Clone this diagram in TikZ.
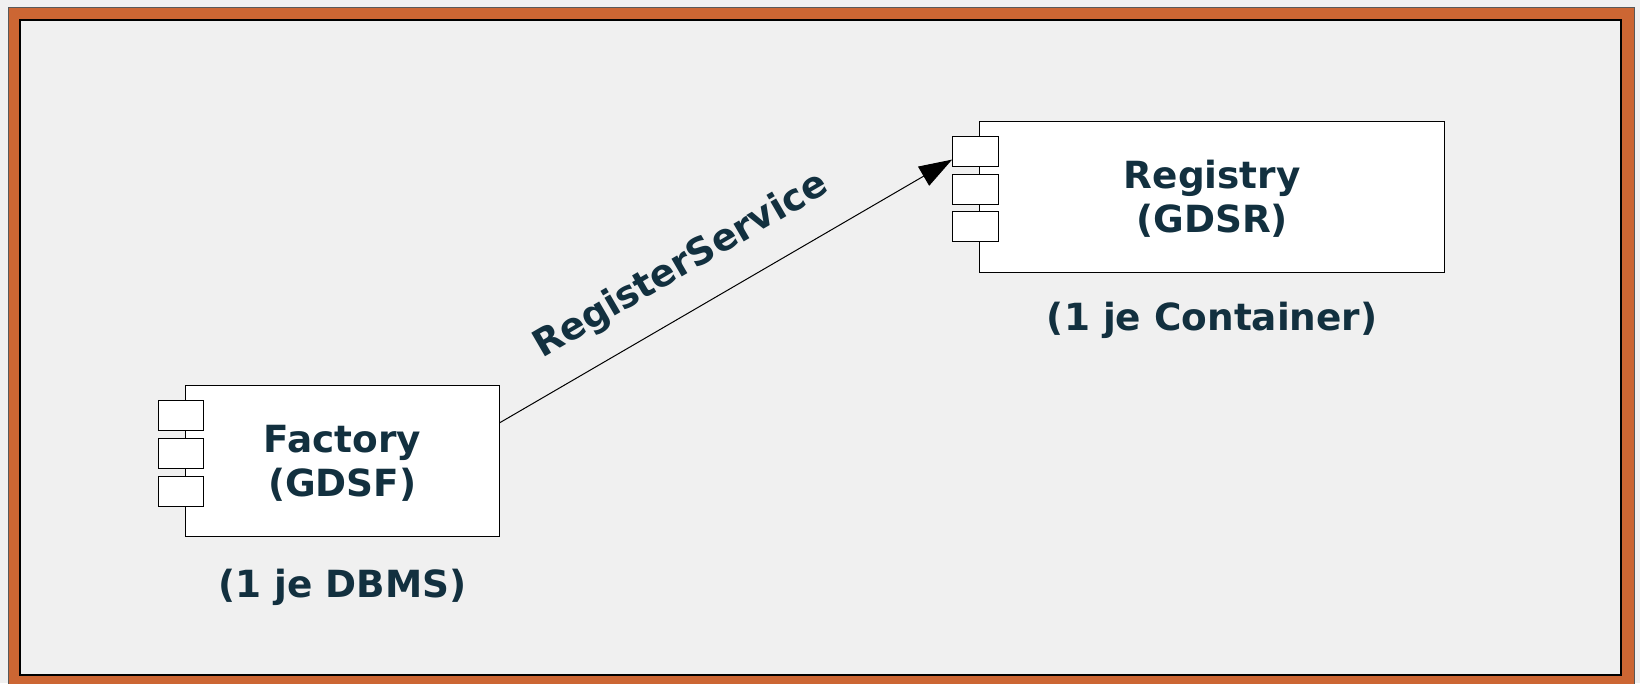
\documentclass[tikz,border=0pt]{standalone}
\usepackage{fontspec}
\setmainfont{DejaVu Sans}
\usetikzlibrary{arrows.meta,calc}
\definecolor{pagebg}{HTML}{F0F0F0}
\definecolor{framebrown}{HTML}{CC6633}
\definecolor{inkblue}{HTML}{12303F}
\newcommand\diagfont{\fontsize{37.4pt}{44.4pt}\selectfont\bfseries}
\begin{document}
\begin{tikzpicture}[x=1pt,y=-1pt,
  compbox/.style={draw=black, fill=white, line width=1pt, minimum height=151pt, inner sep=0pt},
  namelabel/.style={font=\diagfont, text=inkblue, align=center, inner sep=0pt},
  port/.style={draw=black, fill=white, line width=1pt, minimum width=45.7pt, minimum height=30pt, inner sep=0pt},
  caption/.style={font=\diagfont, text=inkblue, anchor=base, inner sep=0pt},
  flow/.style={draw=black, line width=1pt, -{Triangle[length=33pt,width=22pt]}}]
\useasboundingbox (0,0) rectangle (1640,683);
% page and frame
\fill[pagebg] (0,0) rectangle (1640,683);
\path[fill=framebrown, draw=black!65, line width=1pt] (8,7) rectangle (1634,695);
\path[fill=pagebg, draw=black, line width=1.5pt] (20,20) rectangle (1621,675);

% factory component
\node[compbox, minimum width=314pt] (fac) at (342.3,461.2) {};
\node[namelabel] (facname) at ($(fac.center)+(0,2.3)$) {Factory\\(GDSF)};
\node[port] (f1) at ($(fac.west)+(-3.75,-45.3)$) {};
\node[port] (f2) at ($(fac.west)+(-3.75,-7.6)$) {};
\node[port] (f3) at ($(fac.west)+(-3.75,30.1)$) {};
\node[caption] (facnote) at ($(fac.south)+(0,60)$) {(1 je DBMS)};

% registry component
\node[compbox, minimum width=465pt] (reg) at (1212.2,196.7) {};
\node[namelabel] (regname) at ($(reg.center)+(0,1.9)$) {Registry\\(GDSR)};
\node[port] (r1) at ($(reg.west)+(-3.75,-45.3)$) {};
\node[port] (r2) at ($(reg.west)+(-3.75,-7.6)$) {};
\node[port] (r3) at ($(reg.west)+(-3.75,30.1)$) {};
\node[caption] (regnote) at ($(reg.south)+(0,57.5)$) {(1 je Container)};

% service registration
\draw[flow] ($(fac.east)+(0,-38.5)$) -- ($(r1.west)+(0,8.2)$)
  node[sloped, pos=0.45, anchor=base, yshift=34pt, font=\diagfont, text=inkblue, inner sep=0pt] (svc) {RegisterService};
\end{tikzpicture}
\end{document}
